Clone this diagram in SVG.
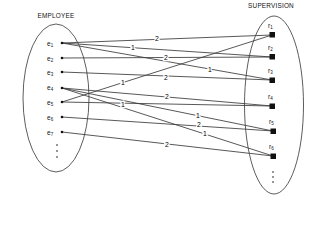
<svg xmlns="http://www.w3.org/2000/svg" width="320" height="240" viewBox="0 0 320 240">
<style>
.t{font-family:"Liberation Sans",Arial,sans-serif;fill:#111}
.h{font-size:6.4px;letter-spacing:0.2px}
.n{font-size:6.5px}
.s{font-size:4.5px}
.lbl{font-family:"Liberation Sans",Arial,sans-serif;font-size:6.8px;fill:#000;text-anchor:middle;stroke:#fff;stroke-width:2.6px;paint-order:stroke;dominant-baseline:central}
.set{fill:none;stroke:#333;stroke-width:0.8}
.conn line{stroke:#3a3a3a;stroke-width:0.85}
.dot{fill:#111}
.sq{fill:#111}
</style>
<rect width="320" height="240" fill="#fff"/>
<g id="employee-set">
<text class="t h" x="56" y="18" text-anchor="middle">EMPLOYEE</text>
<ellipse class="set" cx="56" cy="98" rx="33" ry="74"/>
<circle class="dot" cx="57" cy="145" r="0.8"/>
<circle class="dot" cx="57" cy="151" r="0.8"/>
<circle class="dot" cx="57" cy="157" r="0.8"/>
</g>
<g id="supervision-set">
<text class="t h" x="271" y="8" text-anchor="middle">SUPERVISION</text>
<ellipse class="set" cx="274" cy="105" rx="29.5" ry="89"/>
<circle class="dot" cx="273" cy="172" r="0.8"/>
<circle class="dot" cx="273" cy="177" r="0.8"/>
<circle class="dot" cx="273" cy="182" r="0.8"/>
</g>
<g id="connectors" class="conn">
<line x1="62" y1="43" x2="272" y2="35"/>
<line x1="62" y1="43" x2="272" y2="57"/>
<line x1="62" y1="43" x2="272" y2="80"/>
<line x1="62" y1="58" x2="272" y2="57"/>
<line x1="62" y1="72" x2="272" y2="80"/>
<line x1="62" y1="102" x2="272" y2="35"/>
<line x1="62" y1="88" x2="272" y2="106"/>
<line x1="62" y1="102" x2="272" y2="106"/>
<line x1="62" y1="88" x2="273" y2="131"/>
<line x1="62" y1="117" x2="273" y2="131"/>
<line x1="62" y1="88" x2="273" y2="156"/>
<line x1="62" y1="132" x2="273" y2="156"/>
<text class="lbl" x="157" y="38">2</text>
<text class="lbl" x="133" y="47.5">1</text>
<text class="lbl" x="210" y="69">1</text>
<text class="lbl" x="166" y="57.5">2</text>
<text class="lbl" x="166" y="77">2</text>
<text class="lbl" x="123" y="82">1</text>
<text class="lbl" x="167" y="96.5">2</text>
<text class="lbl" x="123" y="104">1</text>
<text class="lbl" x="198" y="115">1</text>
<text class="lbl" x="199" y="124.5">2</text>
<text class="lbl" x="205" y="133.5">1</text>
<text class="lbl" x="167" y="144">2</text>
</g>
<g id="e1"><text class="t n" x="47" y="45.5">e<tspan class="s" dy="1">1</tspan></text><circle class="dot" cx="62" cy="43" r="1.3"/></g>
<g id="e2"><text class="t n" x="47" y="60.5">e<tspan class="s" dy="1">2</tspan></text><circle class="dot" cx="62" cy="58" r="1.3"/></g>
<g id="e3"><text class="t n" x="47" y="74.5">e<tspan class="s" dy="1">3</tspan></text><circle class="dot" cx="62" cy="72" r="1.3"/></g>
<g id="e4"><text class="t n" x="47" y="90">e<tspan class="s" dy="1">4</tspan></text><circle class="dot" cx="62" cy="88" r="1.3"/></g>
<g id="e5"><text class="t n" x="47" y="104.5">e<tspan class="s" dy="1">5</tspan></text><circle class="dot" cx="62" cy="102" r="1.3"/></g>
<g id="e6"><text class="t n" x="47" y="119.5">e<tspan class="s" dy="1">6</tspan></text><circle class="dot" cx="62" cy="117" r="1.3"/></g>
<g id="e7"><text class="t n" x="47" y="134.5">e<tspan class="s" dy="1">7</tspan></text><circle class="dot" cx="62" cy="132" r="1.3"/></g>
<g id="r1"><text class="t n" x="268" y="28">r<tspan class="s" dy="1">1</tspan></text><rect class="sq" x="269.5" y="32" width="5.5" height="5.5"/></g>
<g id="r2"><text class="t n" x="268" y="50">r<tspan class="s" dy="1">2</tspan></text><rect class="sq" x="269.5" y="54" width="5.5" height="5.5"/></g>
<g id="r3"><text class="t n" x="268" y="73">r<tspan class="s" dy="1">3</tspan></text><rect class="sq" x="269.5" y="77.5" width="5.5" height="5.5"/></g>
<g id="r4"><text class="t n" x="268" y="99">r<tspan class="s" dy="1">4</tspan></text><rect class="sq" x="269.5" y="103.5" width="5.5" height="5.5"/></g>
<g id="r5"><text class="t n" x="269" y="124">r<tspan class="s" dy="1">5</tspan></text><rect class="sq" x="270.5" y="128.5" width="5.5" height="5.5"/></g>
<g id="r6"><text class="t n" x="269" y="149">r<tspan class="s" dy="1">6</tspan></text><rect class="sq" x="270.5" y="153.5" width="5.5" height="5.5"/></g>
</svg>
